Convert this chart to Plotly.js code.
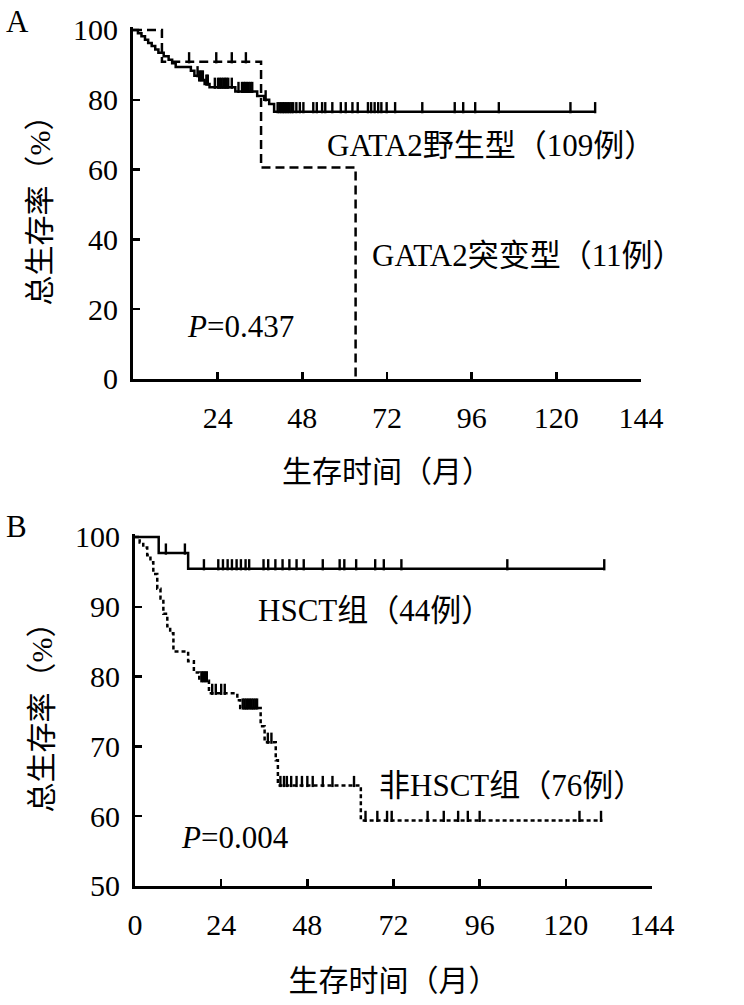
<!DOCTYPE html>
<html>
<head>
<meta charset="utf-8">
<script src="https://cdn.plot.ly/plotly-3.0.1.min.js"></script>
<style>html,body{margin:0;padding:0;background:#fff;}#chart{width:744px;height:1005px;}</style>
</head>
<body>
<div id="chart"></div>
<script>
// ---------------- DATA ----------------
// Panel A: GATA2 wild type (109) vs mutant (11)
const wtTimes = [0, 1.4, 2.4, 3.4, 4.3, 5.3, 6.3, 7.2, 8.7, 10.1, 11.1, 12.1, 16.4, 17.4, 18.8, 20.3, 21.7, 29, 35.2, 37.2, 38.6, 40, 131];
const wtSurv  = [100, 99.1, 98.2, 97.2, 96.3, 95.4, 94.4, 93.5, 92.5, 91.5, 90.5, 89.4, 88.3, 86.9, 85.7, 84.5, 83.6, 82.4, 81.1, 80.0, 78.8, 76.6, 76.6];
const wtCensor = [18.3, 18.8, 19.3, 19.8, 20.8, 21.2, 23.2, 24.1, 24.6, 25.1, 25.6, 26.1, 26.5, 27, 28, 29.9, 30.9, 31.4, 31.8, 32.3, 32.8, 33.3, 33.8, 37.6,
                  41, 41.5, 42, 42.5, 42.9, 43.4, 43.9, 44.4, 44.9, 45.4, 46.3, 47.3, 48.3, 51.1, 52.1, 53.6, 54.5, 56.5, 58.9, 60.3, 62.2, 63.7,
                  66.6, 67.5, 68.5, 69.5, 70.4, 71.9, 74.3, 82, 91.2, 93.6, 97, 103.7, 124, 131];
const mtTimes = [0, 8.2, 36.3, 63.1];
const mtSurv  = [100, 90.9, 60.6, 0];
const mtCensor = [15.9, 23.6, 28, 32];

// Panel B: HSCT (44) vs non-HSCT (76)
const hsTimes = [0, 6.6, 14.8, 130.7];
const hsSurv  = [100, 97.7, 95.45, 95.45];
const hsCensor = [8.6, 13.9, 19.2, 23.2, 24.5, 25.8, 27, 28.3, 29.5, 30.8, 31.8, 35.8, 37.1, 39.1, 41.1, 43, 45, 47, 52.3, 57, 58.3, 61.6, 66.9, 69.3, 74.2, 103.7, 130.7];
const nhTimes = [0, 1.3, 2.3, 3.4, 4.3, 5.1, 6.2, 7.1, 7.9, 9, 9.8, 10.7, 14.8, 16.4, 17.9, 20.6, 28.5, 29.3, 35, 36.1, 39.2, 39.8, 62.9, 130.2];
const nhSurv  = [100, 99.2, 98.5, 97.4, 96.4, 94.7, 92.6, 91.2, 89, 87.2, 86.2, 83.6, 82.2, 80.6, 79.4, 77.6, 76.6, 75.5, 72.9, 70.6, 68, 64.4, 59.4, 59.4];
const nhCensor = [18.5, 19, 19.5, 20, 21.5, 22.5, 24, 25, 30, 30.5, 31, 31.5, 32, 32.5, 33, 33.5, 34, 37, 38,
                  40.5, 41.5, 42.3, 43.5, 45, 46.5, 48, 49.5, 52.3, 55, 61,
                  64.2, 67.5, 70.2, 71.5, 81.5, 86, 90, 92.7, 96, 123.8, 129.8];

// Tick labels
const xTicksA = [24, 48, 72, 96, 120, 144];
const xTicksB = [0, 24, 48, 72, 96, 120, 144];
const yTicksA = [0, 20, 40, 60, 80, 100];
const yTicksB = [50, 60, 70, 80, 90, 100];

// Texts
const labelWT = "GATA2野生型（109例）";
const labelMT = "GATA2突变型（11例）";
const labelHS = "HSCT组（44例）";
const labelNH = "非HSCT组（76例）";
const pA = "<i>P</i>=0.437";
const pB = "<i>P</i>=0.004";
const yTitle = "总生存率（%）";
const xTitle = "生存时间（月）";

// ---------------- LAYOUT HELPERS ----------------
const W = 744, H = 1005;
const FONT = "'Liberation Serif', 'Noto Sans CJK SC', serif";
const FS_TICK = 30, FS_TEXT = 31, FS_TITLE = 30;

function survAt(times, surv, t) {
  let v = surv[0];
  for (let i = 0; i < times.length; i++) { if (times[i] <= t) v = surv[i]; }
  return v;
}
// pixel frames of the two plot areas
const A = {x0: 133, x1: 641, yLo: 379, yHi: 30, vLo: 0, vHi: 100, top: 100.8};
const B = {x0: 135, x1: 652, yLo: 886, yHi: 537, vLo: 50, vHi: 100, top: 100.4};
function yDomain(f) {
  const ppu = (f.yLo - f.yHi) / (f.vHi - f.vLo);
  const topPx = f.yHi - (f.top - f.vHi) * ppu;
  return [1 - f.yLo / H, 1 - topPx / H];
}
function unitsPerPx(f) { return (f.vHi - f.vLo) / (f.yLo - f.yHi); }

const TICK_HALF = 4; // censor tick half length (px)
function censorTrace(times, surv, cens, f, xa, ya) {
  const off = TICK_HALF * unitsPerPx(f);
  return {
    x: cens, y: cens.map(t => survAt(times, surv, t) + off),
    xaxis: xa, yaxis: ya, type: 'scatter', mode: 'markers', hoverinfo: 'skip', showlegend: false,
    marker: {symbol: 'line-ns', size: 2 * TICK_HALF, color: 'black', line: {color: 'black', width: 2.4}},
    cliponaxis: false
  };
}
function curve(times, surv, dash, xa, ya) {
  return {x: times, y: surv, xaxis: xa, yaxis: ya, type: 'scatter', mode: 'lines', showlegend: false,
          line: {shape: 'hv', color: 'black', width: 2.5, dash: dash}};
}

const traces = [
  curve(mtTimes, mtSurv, '9px,5px', 'x', 'y'),
  curve(wtTimes, wtSurv, 'solid', 'x', 'y'),
  censorTrace(wtTimes, wtSurv, wtCensor, A, 'x', 'y'),
  censorTrace(mtTimes, mtSurv, mtCensor, A, 'x', 'y'),
  curve(nhTimes, nhSurv, '4px,3px', 'x2', 'y2'),
  curve(hsTimes, hsSurv, 'solid', 'x2', 'y2'),
  censorTrace(hsTimes, hsSurv, hsCensor, B, 'x2', 'y2'),
  censorTrace(nhTimes, nhSurv, nhCensor, B, 'x2', 'y2')
];

const axCommon = {
  showline: true, linecolor: 'black', linewidth: 3, mirror: false,
  showgrid: false, zeroline: false, ticks: 'inside', ticklen: 7, tickwidth: 2.5, tickcolor: 'black',
  tickfont: {family: FONT, size: FS_TICK, color: 'black'}, fixedrange: true, automargin: false
};
const titleFont = {family: FONT, size: FS_TITLE, color: 'black'};
const textFont = {family: FONT, size: FS_TEXT, color: 'black'};

const layout = {
  width: W, height: H, paper_bgcolor: 'white', plot_bgcolor: 'white',
  margin: {l: 0, r: 0, t: 0, b: 0}, showlegend: false,
  xaxis: Object.assign({}, axCommon, {domain: [A.x0 / W, A.x1 / W], range: [0, 144], tickvals: xTicksA, ticktext: xTicksA.map(String),
          anchor: 'y', ticklabelstandoff: 10, title: {text: xTitle, font: titleFont, standoff: 28}}),
  yaxis: Object.assign({}, axCommon, {domain: yDomain(A), range: [0, A.top], tickvals: yTicksA, ticktext: yTicksA.map(String),
          anchor: 'x', ticklabelstandoff: 6, title: {text: yTitle, font: titleFont, standoff: 14}}),
  xaxis2: Object.assign({}, axCommon, {domain: [B.x0 / W, B.x1 / W], range: [0, 144], tickvals: xTicksB, ticktext: xTicksB.map(String),
          anchor: 'y2', ticklabelstandoff: 10, title: {text: xTitle, font: titleFont, standoff: 30}}),
  yaxis2: Object.assign({}, axCommon, {domain: yDomain(B), range: [50, B.top], tickvals: yTicksB, ticktext: yTicksB.map(String),
          anchor: 'x2', ticklabelstandoff: 6, title: {text: yTitle, font: titleFont, standoff: 14}}),
  annotations: [
    {text: 'A', xref: 'paper', yref: 'paper', x: 4 / W, y: 1 - 22 / H, xanchor: 'left', yanchor: 'middle', showarrow: false, font: textFont},
    {text: 'B', xref: 'paper', yref: 'paper', x: 4 / W, y: 1 - 526 / H, xanchor: 'left', yanchor: 'middle', showarrow: false, font: textFont},
    {text: labelWT, xref: 'x', yref: 'y', x: 54.4, y: 67, xanchor: 'left', yanchor: 'middle', showarrow: false, font: textFont},
    {text: labelMT, xref: 'x', yref: 'y', x: 67.1, y: 35.5, xanchor: 'left', yanchor: 'middle', showarrow: false, font: textFont},
    {text: pA, xref: 'x', yref: 'y', x: 14.7, y: 14.9, xanchor: 'left', yanchor: 'middle', showarrow: false, font: textFont},
    {text: labelHS, xref: 'x2', yref: 'y2', x: 33.6, y: 89.5, xanchor: 'left', yanchor: 'middle', showarrow: false, font: textFont},
    {text: labelNH, xref: 'x2', yref: 'y2', x: 67.3, y: 64.4, xanchor: 'left', yanchor: 'middle', showarrow: false, font: textFont},
    {text: pB, xref: 'x2', yref: 'y2', x: 12.2, y: 57, xanchor: 'left', yanchor: 'middle', showarrow: false, font: textFont}
  ]
};

Plotly.newPlot('chart', traces, layout, {displayModeBar: false, staticPlot: true});
</script>
</body>
</html>
